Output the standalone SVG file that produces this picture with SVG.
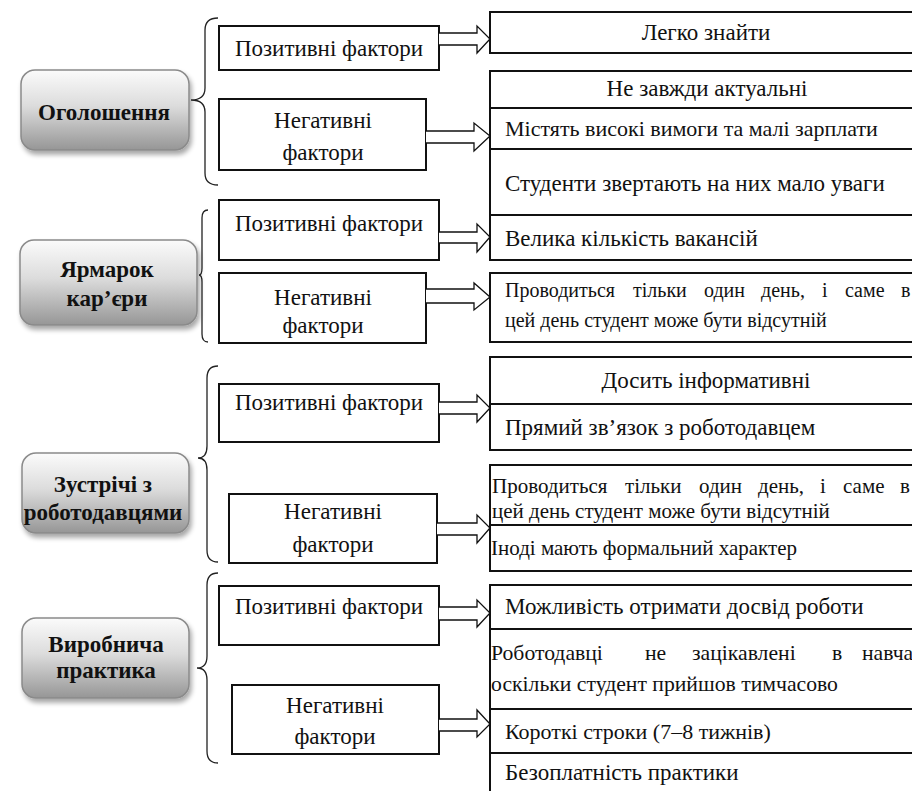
<svg xmlns="http://www.w3.org/2000/svg" width="912" height="791" viewBox="0 0 912 791">
<style>
text{font-family:'Liberation Serif','Times New Roman',serif;font-size:23px;fill:#111}
.b{font-weight:bold}
.c{text-anchor:middle}
.s20{font-size:20px}
.s21{font-size:21px}
.s22{font-size:22px}
.s217{font-size:21.7px}
.box{fill:#fff;stroke:#111;stroke-width:2}
.main{fill:url(#g);stroke:#8a8a8a;stroke-width:1.5;filter:url(#sh)}
.div{stroke:#111;stroke-width:2}
.br{fill:none;stroke:#222;stroke-width:1.3}
.ar{fill:#fff;stroke:#111;stroke-width:1.3;stroke-linejoin:miter}
</style>
<defs>
<linearGradient id="g" x1="0" y1="0" x2="0" y2="1">
<stop offset="0" stop-color="#fbfbfb"/>
<stop offset="0.45" stop-color="#dcdcdc"/>
<stop offset="1" stop-color="#969696"/>
</linearGradient>
<filter id="sh" x="-10%" y="-10%" width="130%" height="140%">
<feGaussianBlur in="SourceAlpha" stdDeviation="2.5"/>
<feOffset dx="2" dy="4" result="o"/>
<feComponentTransfer><feFuncA type="linear" slope="0.35"/></feComponentTransfer>
<feMerge><feMergeNode/><feMergeNode in="SourceGraphic"/></feMerge>
</filter>
</defs>
<rect width="912" height="791" fill="#fff"/>

<!-- main nodes -->
<g id="n-ogoloshennia"><rect class="main" x="21" y="70" width="168" height="80" rx="14"/><text class="b c" x="104" y="120">Оголошення</text></g>
<g id="n-yarmarok"><rect class="main" x="20" y="240" width="177" height="85" rx="14"/><text class="b c" x="107" y="277">Ярмарок</text><text class="b c" x="107" y="306">кар’єри</text></g>
<g id="n-zustrichi"><rect class="main" x="22" y="453" width="167" height="80" rx="14"/><text class="b c" x="103" y="492">Зустрічі з</text><text class="b c" x="103" y="520">роботодавцями</text></g>
<g id="n-vyrobnycha"><rect class="main" x="22" y="618" width="167" height="80" rx="14"/><text class="b c" x="106" y="652">Виробнича</text><text class="b c" x="106" y="678">практика</text></g>

<!-- factor boxes -->
<g id="f1-pos"><rect class="box" x="219" y="26" width="220" height="44"/><text class="c" x="329" y="56">Позитивні фактори</text></g>
<g id="f1-neg"><rect class="box" x="219" y="99" width="207" height="71"/><text class="c" x="323" y="128">Негативні</text><text class="c" x="323" y="160">фактори</text></g>
<g id="f2-pos"><rect class="box" x="219" y="200" width="220" height="60"/><text class="c" x="329" y="231">Позитивні фактори</text></g>
<g id="f2-neg"><rect class="box" x="219" y="273" width="207" height="70"/><text class="c" x="323" y="305">Негативні</text><text class="c" x="323" y="333">фактори</text></g>
<g id="f3-pos"><rect class="box" x="219" y="384" width="220" height="58"/><text class="c" x="329" y="410">Позитивні фактори</text></g>
<g id="f3-neg"><rect class="box" x="229" y="494" width="208" height="69"/><text class="c" x="333" y="519">Негативні</text><text class="c" x="333" y="552">фактори</text></g>
<g id="f4-pos"><rect class="box" x="219" y="586" width="220" height="59"/><text class="c" x="329" y="614">Позитивні фактори</text></g>
<g id="f4-neg"><rect class="box" x="232" y="685" width="207" height="69"/><text class="c" x="335" y="713">Негативні</text><text class="c" x="335" y="744">фактори</text></g>

<!-- result boxes -->
<g id="r1"><rect class="box" x="490" y="12" width="440" height="41"/><text class="c" x="706" y="40">Легко знайти</text></g>
<g id="r2"><rect class="box" x="490" y="71" width="440" height="189"/>
<line class="div" x1="490" y1="108" x2="930" y2="108"/><line class="div" x1="490" y1="149" x2="930" y2="149"/><line class="div" x1="490" y1="215" x2="930" y2="215"/>
<text class="c" x="707" y="96">Не завжди актуальні</text>
<text class="s22" x="505" y="136">Містять високі вимоги та малі зарплати</text>
<text x="505" y="191">Студенти звертають на них мало уваги</text>
<text x="505" y="246">Велика кількість вакансій</text></g>
<g id="r3"><rect class="box" x="490" y="273" width="440" height="69"/>
<text class="s20" y="297"><tspan x="505">Проводиться</tspan><tspan x="633">тільки</tspan><tspan x="704">один</tspan><tspan x="761">день,</tspan><tspan x="822">і</tspan><tspan x="845">саме</tspan><tspan x="901">в</tspan></text>
<text class="s20" x="505" y="327">цей день студент може бути відсутній</text></g>
<g id="r4"><rect class="box" x="490" y="357" width="440" height="93"/>
<line class="div" x1="490" y1="404" x2="930" y2="404"/>
<text class="c" x="706" y="388">Досить інформативні</text>
<text x="505" y="435">Прямий зв’язок з роботодавцем</text></g>
<g id="r5"><rect class="box" x="490" y="465" width="440" height="106"/>
<line class="div" x1="490" y1="525" x2="930" y2="525"/>
<text class="s21" y="493"><tspan x="492">Проводиться</tspan><tspan x="625">тільки</tspan><tspan x="699">один</tspan><tspan x="758">день,</tspan><tspan x="820">і</tspan><tspan x="843">саме</tspan><tspan x="900">в</tspan></text>
<text class="s21" x="492" y="518">цей день студент може бути відсутній</text>
<text class="s21" x="491" y="555">Іноді мають формальний характер</text></g>
<g id="r6"><rect class="box" x="490" y="585" width="440" height="220"/>
<line class="div" x1="490" y1="629" x2="930" y2="629"/><line class="div" x1="490" y1="709" x2="930" y2="709"/><line class="div" x1="490" y1="753" x2="930" y2="753"/>
<text x="505" y="614">Можливість отримати досвід роботи</text>
<text class="s217" y="660"><tspan x="491">Роботодавці</tspan><tspan x="645">не</tspan><tspan x="692">зацікавлені</tspan><tspan x="832">в</tspan><tspan x="862">навчанні,</tspan></text>
<text class="s217" x="491" y="691">оскільки студент прийшов тимчасово</text>
<text class="s22" x="505" y="739">Короткі строки (7–8 тижнів)</text>
<text x="505" y="780">Безоплатність практики</text></g>

<!-- connectors -->
<g id="connectors">
<path class="br" d="M218,18 C209,18 205,22 205,30 L205,88 C205,96 200,100 191,100 C200,100 205,104 205,112 L205,173 C205,181 209,185 218,185"/>
<path class="br" d="M208,210 C204,210 202,213 202,218 L202,268 C202,272 201,275 199,275 C201,275 202,278 202,282 L202,334 C202,339 204,342 208,342"/>
<path class="br" d="M218,366 C210,366 207,370 207,378 L207,446 C207,454 204,458 198,458 C204,458 207,462 207,470 L207,550 C207,558 210,562 218,562"/>
<path class="br" d="M218,573 C210,573 207,577 207,585 L207,656 C207,664 204,668 197,668 C204,668 207,672 207,680 L207,751 C207,759 210,763 218,763"/>
<path class="ar" d="M439,33 L477,33 L477,26 L490,39 L477,53 L477,45 L439,45"/>
<path class="ar" d="M426,131 L474,131 L474,123 L490,136 L474,151 L474,143 L426,143"/>
<path class="ar" d="M439,232 L477,232 L477,224 L490,237 L477,252 L477,243 L439,243"/>
<path class="ar" d="M426,289 L474,289 L474,283 L490,297 L474,310 L474,303 L426,303"/>
<path class="ar" d="M439,402 L477,402 L477,395 L490,408 L477,422 L477,414 L439,414"/>
<path class="ar" d="M437,523 L477,523 L477,515 L490,528 L477,543 L477,535 L437,535"/>
<path class="ar" d="M439,607 L477,607 L477,600 L490,613 L477,627 L477,620 L439,620"/>
<path class="ar" d="M439,719 L477,719 L477,710 L490,724 L477,737 L477,731 L439,731"/>
</g>
</svg>
